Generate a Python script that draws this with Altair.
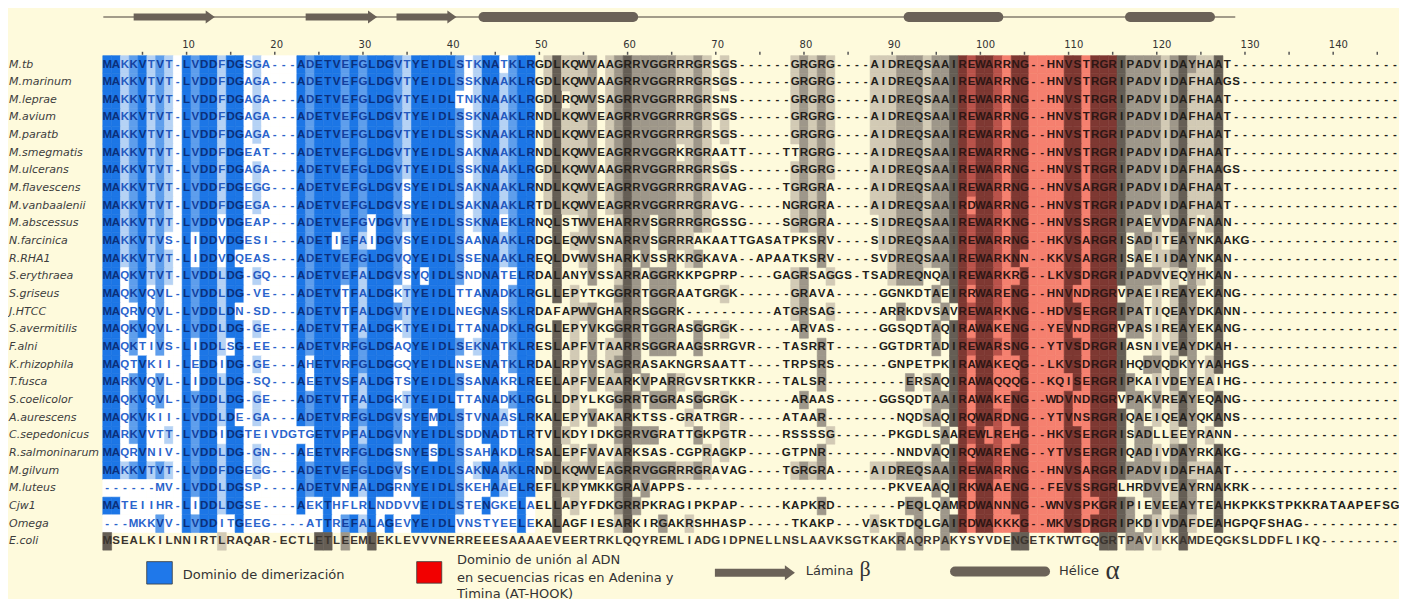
import altair as alt
import pandas as pd
from collections import Counter

names = ["M.tb", "M.marinum", "M.leprae", "M.avium", "M.paratb", "M.smegmatis",
         "M.ulcerans", "M.flavescens", "M.vanbaalenii", "M.abscessus", "N.farcinica",
         "R.RHA1", "S.erythraea", "S.griseus", "J.HTCC", "S.avermitilis", "F.alni",
         "K.rhizophila", "T.fusca", "S.coelicolor", "A.aurescens", "C.sepedonicus",
         "R.salmoninarum", "M.gilvum", "M.luteus", "Cjw1", "Omega", "E.coli"]

sequences = [
    ("MAKKVTVT-LVDDFDGSGA---ADETVEFGLDGVTYEIDLSTKNATKLR" "GDLKQWVAAGRRVGGRRRGRSGS" "------GRGRG----" "AIDREQSAAIREWARRNG" "--" "HNVSTRGRIPADVIDAYHAAT"),
    ("MAKKVTVT-LVDDFDGAGA---ADETVEFGLDGVTYEIDLSSKNAAKLR" "GDLKQWVAAGRRVGGRRRGRSGS" "------GRGRG----" "AIDREQSAAIREWARRNG" "--" "HNVSTRGRIPADVIDAFHAAGS"),
    ("MAKKVTVT-LVDDFDGAGA---ADETVEFGLDGVTYEIDLTNKNAAKLR" "GDLRQWVSAGRRVGGRRRGRSNS" "------GRGRG----" "AIDREQSAAIREWARRNG" "--" "HNVSTRGRIPADVIDAFHAAT"),
    ("MAKKVTVT-LVDDFDGAGA---ADETVEFGLDGVTYEIDLSSKNAAKLR" "NDLKQWVEAGRRVGGRRRGRSGS" "------GRGRG----" "AIDREQSAAIREWARRNG" "--" "HNVSTRGRIPADVIDAFHAAT"),
    ("MAKKVTVT-LVDDFDGAGA---ADETVEFGLDGVTYEIDLSSKNAAKLR" "NDLKQWVEAGRRVGGRRRGRSGS" "------GRGRG----" "AIDREQSAAIREWARRNG" "--" "HNVSTRGRIPADVIDAFHAAT"),
    ("MAKKVTVT-LVDDFDGEAT---ADETVEFGLDGVTYEIDLSAKNAAKLR" "NDLKQWVEAGRRVGGRKRGRAAT" "T----TTRGRG----" "AIDREQSAAIREWARRNG" "--" "HNVSTRGRIPADVIDAFHAAT"),
    ("MAKKVTVT-LVDDFDGAGA---ADETVEFGLDGVTYEIDLSSKNAAKLR" "GDLKQWVAAGRRVGGRRRGRSGS" "------GRGRG----" "AIDREQSAAIREWARRNG" "--" "HNVSTRGRIPADVIDAFHAAGS"),
    ("MAKKVTVT-LVDDFDGEGG---ADETVEFGLDGVSYEIDLSAKNAAKLR" "NDLKQWVEAGRRVGGRRRGRAVA" "G----TGRGRA----" "AIDREQSAAIREWARRNG" "--" "HNVSARGRIPADVIDAFHAAT"),
    ("MAKKVTVT-LVDDFDGEGA---ADETVEFGLDGVSYEIDLSAKNAAKLR" "TDLKQWVEAGRRVGGRRRGRAVG" "-----NGRGRA----" "AIDREQSAAIRDWARRNG" "--" "HNVSTRGRIPADVIDAFHAAT"),
    ("MAKKVTVT-LVDDVDGEAP---ADETVEFGVDGVTYEIDLSSKNAEKLR" "NQLSTWVEHARRVSGRRRGRGSS" "G----SGRGRA----" "SIDREQSAAIREWARKNG" "--" "HNVSSRGRIPAEVVDAFNAAN"),
    ("MAKKVTVS-LIDDVDGESI---ADETIEFAIDGVSYEIDLSAANAAKLR" "DGLEQWVSNARRVSGRRRAKAAT" "TGASATPKSRV----" "SIDREQSAAIREWARRNG" "--" "HKVSARGRISADITEAYNKAAKG"),
    ("MAKKVTVT-LIDDVDQEAS---ADETVEFGLDGVQYEIDLSSENAAKLR" "EQLDVWVSHARKVSSRKRGKAVA" "--APAATKSRV----" "SVDREQSAAIREWARKNN" "--" "KKVSARGRISAEIIDAYNKAN"),
    ("MAQKVTVT-LVDDLDG-GQ---ADETVEFALDGVSYQIDLSNDNATELR" "DALANYVSSARRAGGRKKPGPRP" "----GAGRSAGGS-T" "SADREQNQAIREWARKRG" "--" "LKVSDRGRIPADVVEQYHKAN"),
    ("MAQKVQVL-LVDDLDG-VE---ADETVTFALDGKTYEIDLTTANADKLR" "GLLEPYTKGGRRTGGRAATGRGK" "------GRAVA----" "-GGNKDTAEIRRWARENG" "--" "HNVNDRGRVPAEIREAYEKANG"),
    ("MAQRVQVL-LVDDLDN-SD---ADETVTFALDGVTYEIDLNEGNASKLR" "DAFAPWVGHARRSGGRK------" "----ATGRSAG----" "-ARRKDVSAVREWARKNG" "--" "HDVSERGRIPATIQEAYDKANN"),
    ("MAQKVQVL-LVDDLDG-GE---ADETVTFALDGKTYEIDLTTANADKLR" "GLLEPYVKGGRRTGGRASGGRGK" "------ARVAS----" "-GGSQDTAQIRAWAKENG" "--" "YEVNDRGRVPASIREAYEKANG"),
    ("MAQKTIVS-LIDDLSG-EE---ADETVRFGLDGAQYEIDLSEKNATKLR" "ESLAPFVTAARRSGGRAAGSRRG" "VR---TASRRT----" "-GGTDRTADIREWARSNG" "--" "YTVSDRGRIASNIVEAYDKAH"),
    ("MAQTVKII-LEDDIDG-GE---AHETVRFGLDGGQYEIDLNSENATKLR" "DALRPYVSAGRRASAKNGRSAAT" "T----TRPSRS----" "--GNPETPKIRAWAKEQG" "--" "LKVSDRGRIHQDVQDKYYAAHGS"),
    ("MARKVQVL-LIDDLDG-SQ---AEETVSFALDGTSYEIDLSSANAKRLR" "EELAPFVEAARKVPARRGVSRTK" "KR---TALSR-----" "----ERSAQIRAWAQQQG" "--" "KQISERGRIPKAIVDEYEAIHG"),
    ("MAQKVQVL-LVDDLDG-GE---ADETVTFALDGKTYEIDLTTANADKLR" "GLLDPYLKGGRRTGGRASGGRGK" "------ARAAS----" "-GGSQDTAAIRAWAKENG" "--" "WDVNDRGRVPAKVREAYEQANG"),
    ("MAQKVKII-LVDDLDE-GA---ADETVRFGLDGVSYEMDLSTVNAASLR" "KALEPYVAKARKTSS-GRATRGR" "-----ATAAR-----" "---NQDSAQIRQWARDNG" "--" "YTVNSRGRIQAEIQEAYQKANS"),
    ("MARKVVTT-LVDDIDGTEIVDGTGETVPFALDGVNYEIDLSDDNADTLR" "TVLKDYIDKGRRVGRATTGKPGT" "R----RSSSSG----" "--PKGDLSAAREWLREHG" "--" "HKVSERGRISADLLEEYRANN"),
    ("MAQRVNIV-LVDDLDG-GN---AEETVRFGLDGSNYESDLSSAHAKDLR" "SALEPFVAVARKSAS-CGPRAGK" "P----GTPNR-----" "---NNDVAQIRQWARENG" "--" "YTVSERGRIQADIVDAYRKAKG"),
    ("MAKKVTVT-LVDDFDGEGG---ADETVEFGLDGVSYEIDLSAKNAAKLR" "NDLKQWVEAGRRVGGRRRGRAVA" "G----TGRGRA----" "AIDREQSAAIREWARRNG" "--" "HNVSARGRIPADVIDAFHAAT"),
    ("------MV-LVDDLDGSP----ADETVNFALDGRNYEIDLSKEHAAELR" "EFLKPYMKKGRAVAPPS------" "---------------" "--PKVEAAQIRKWAAENG" "--" "FEVSSRGRLHRDVVEAYRNAKRK"),
    ("MATEIIHR-LIDDLDGSE----AEKTHFLRLNDDVVEIDLSTENGKELA" "ELLAPYFDKGRRPKRAGIPKPAP" "-----KAPKRD----" "---PEQLQAMRDWANNNG" "--" "WNVSPKGRIPIEVEEAYTEAHKPKKSTPKKRATAAPEFSG"),
    ("---MKKVV-LVDDITGEEG----ATTREFALAGEVYEIDLVNSTYEELE" "KALAGFIESARKIRGAKRSHHAS" "P-----TKAKP---V" "ASKTDQLGAIRDWAKKKG" "--" "MKVSDRGRIPKDIVDAFDEAHGPQFSHAG"),
    ("MSEALKILNNIRTLRAQAR-ECTLETLEEMLEKLEVVVNERREEESAAAA" "EVEERTRKLQQYREMLIADGIDPNELLNSLAAVKSGTKAKRAQRPAKYSY" "VDENGETKTWTGQGRTPAVIKKAMDEQGKSLDDFLIKQ"),
]

# secondary structure elements, in alignment columns (read from the top track)
strand_start = [4.0, 23.5, 33.8]
strand_tip = [13.2, 31.6, 40.6]
helix_start = [43.1, 91.3, 116.4]
helix_end = [61.2, 102.6, 126.6]
track_span = [0.56, 128.9]

tick_labels = list(range(10, 150, 10))
minor_ticks = list(range(5, 150, 5))

dimer_cols = (1, 49)
athook_cols = (98, 115)

# ---------------- layout -----------------
ALN = 147
PX = 8.82          # pixels per alignment column
RH = 17.66         # pixels per row
W, H = 1391, 591
X0 = 1 - 99.2 / PX
Y0 = -56.5 / RH
XS = alt.Scale(domain=[X0, X0 + W / PX], nice=False, zero=False)
YS = alt.Scale(domain=[Y0, Y0 + H / RH], nice=False, zero=False, reverse=True)

BLUE = {0: "#ffffff", 1: "#b5d2f5", 2: "#5e9eec", 3: "#1c76e6"}
BLUE_T = {0: "#2a64cc", 1: "#2459bf", 2: "#123f9e", 3: "#0b2f7a"}
GRAY = {0: None, 1: "#d2cab5", 2: "#9e978a", 3: "#655e55"}
RED = {0: "#f5806f", 1: "#f5806f", 2: "#b9524a", 3: "#7e3832"}
SS_COL = "#6b6258"

seqs = [s.ljust(ALN, "-")[:ALN] for s in sequences]
n = len(seqs)
cons = [Counter(s[c] for s in seqs) for c in range(ALN)]


def level(ch, c):
    if ch == "-":
        return 0
    f = cons[c][ch] / n
    return 3 if f >= 0.8 else 2 if f >= 0.55 else 1 if f >= 0.35 else 0


recs = []
for r, s in enumerate(seqs):
    last = r == n - 1
    for c, ch in enumerate(s):
        col = c + 1
        lv = level(ch, c)
        if not last and dimer_cols[0] <= col <= dimer_cols[1]:
            fill, tc = BLUE[lv], BLUE_T[lv]
        elif not last and athook_cols[0] <= col <= athook_cols[1]:
            fill, tc = RED[lv], "#2e1614"
        else:
            fill, tc = GRAY[lv], ("#3a342e" if last else "#221e1a")
        recs.append(dict(row=r, col=col, x0=col - 0.5, x1=col + 0.5,
                         r0=r - 0.5, r1=r + 0.5, ch=ch, fill=fill, tc=tc))
cells = pd.DataFrame(recs)

X = lambda f: alt.X(f, scale=XS, axis=None)
Y = lambda f: alt.Y(f, scale=YS, axis=None)

rects = alt.Chart(cells[cells["fill"].notna()]).mark_rect(strokeWidth=0.6).encode(
    x=X("x0:Q"), x2="x1:Q", y=Y("r0:Q"), y2="r1:Q",
    fill=alt.Fill("fill:N", scale=None), stroke=alt.Stroke("fill:N", scale=None))

letters = alt.Chart(cells).mark_text(font="Liberation Sans", fontSize=11.5, fontWeight="bold",
                                     baseline="middle", align="center").encode(
    x=X("col:Q"), y=Y("row:Q"), text="ch:N", color=alt.Color("tc:N", scale=None))

name_df = pd.DataFrame({"row": range(n), "name": names})
labels = alt.Chart(name_df).mark_text(font="DejaVu Sans", fontSize=11, fontStyle="italic",
                                      align="left", baseline="middle", color="#3d3d3d").encode(
    x=alt.value(1), y=Y("row:Q"), text="name:N")

# numbering
tl_df = pd.DataFrame({"t": tick_labels})
tl_df["xl"] = tl_df["t"] - 0.5
tlabels = alt.Chart(tl_df).mark_text(font="DejaVu Sans", fontSize=10, align="left",
                                     baseline="middle", color="#333333").encode(
    x=X("xl:Q"), y=alt.Y(datum=-1.1, scale=YS, axis=None), text="t:Q")
mt_df = pd.DataFrame({"t": minor_ticks})
mticks = alt.Chart(mt_df).mark_rule(color="#555555", strokeWidth=1.5).encode(
    x=X("t:Q"), y=alt.Y(datum=-0.72, scale=YS, axis=None), y2=alt.datum(-0.55))

# secondary structure track
TRACK_Y = -2.69
track = alt.Chart(pd.DataFrame({"a": [track_span[0]], "b": [track_span[1]]})).mark_rule(
    color="#857c6f", strokeWidth=1.5).encode(
    x=X("a:Q"), x2="b:Q", y=alt.Y(datum=TRACK_Y, scale=YS, axis=None))
st = pd.DataFrame({"s": strand_start, "t": strand_tip})
st["body_end"] = st["t"] - 0.9
st["head"] = st["t"] - 4.55 / PX
strand_body = alt.Chart(st).mark_rule(color=SS_COL, strokeWidth=7, strokeCap="butt").encode(
    x=X("s:Q"), x2="body_end:Q", y=alt.Y(datum=TRACK_Y, scale=YS, axis=None))
HEAD = "M -0.7 -1 L 0.7 0 L -0.7 1 Z"
strand_head = alt.Chart(st).mark_point(shape=HEAD, filled=True, size=169, opacity=1,
                                       color=SS_COL, strokeWidth=0).encode(
    x=X("head:Q"), y=alt.Y(datum=TRACK_Y, scale=YS, axis=None))
hx = pd.DataFrame({"s": helix_start, "e": helix_end})
hx["a"] = hx["s"] + 5 / PX
hx["b"] = hx["e"] - 5 / PX
helices = alt.Chart(hx).mark_rule(color=SS_COL, strokeWidth=10, strokeCap="round").encode(
    x=X("a:Q"), x2="b:Q", y=alt.Y(datum=TRACK_Y, scale=YS, axis=None))

# legend
sq = pd.DataFrame({"a": [5.48, 36.09], "b": [8.38, 38.93], "c": [28.15, 28.15],
                   "d": [29.42, 29.37], "f": ["#1f78ea", "#f20000"]})
squares = alt.Chart(sq).mark_rect(stroke="#3a3a3a", strokeWidth=0.8).encode(
    x=X("a:Q"), x2="b:Q", y=Y("c:Q"), y2="d:Q", fill=alt.Fill("f:N", scale=None))

leg_txt = pd.DataFrame({
    "x": [9.56, 40.66, 40.66, 40.66, 80.2, 108.9],
    "y": [28.91, 28.08, 29.08, 30.0, 28.68, 28.68],
    "t": ["Dominio de dimerización", "Dominio de unión al ADN",
          "en secuencias ricas en Adenina y", "Timina (AT-HOOK)", "Lámina", "Hélice"]})
legend_text = alt.Chart(leg_txt).mark_text(font="DejaVu Sans", fontSize=13, align="left",
                                           baseline="middle", color="#333333").encode(
    x=X("x:Q"), y=Y("y:Q"), text="t:N")
greek = pd.DataFrame({"x": [86.3, 114.2], "y": [28.55, 28.66], "t": ["β", "α"],
                      "s": [22, 27]})
greek_text = alt.Chart(greek).mark_text(font="Liberation Serif", align="left",
                                        baseline="middle", color="#333333").encode(
    x=X("x:Q"), y=Y("y:Q"), text="t:N", size=alt.Size("s:Q", scale=None))

LEG_Y = 28.78
la = pd.DataFrame({"s": [69.9], "t": [78.97]})
la["be"] = la["t"] - 1.0
la["h"] = la["t"] - 5 / PX
leg_arrow_body = alt.Chart(la).mark_rule(color=SS_COL, strokeWidth=8, strokeCap="butt").encode(
    x=X("s:Q"), x2="be:Q", y=alt.Y(datum=LEG_Y, scale=YS, axis=None))
leg_arrow_head = alt.Chart(la).mark_point(shape="M -0.67 -1 L 0.67 0 L -0.67 1 Z", filled=True,
                                          size=225, opacity=1, color=SS_COL, strokeWidth=0).encode(
    x=X("h:Q"), y=alt.Y(datum=LEG_Y, scale=YS, axis=None))
lh = pd.DataFrame({"a": [96.56 + 5 / PX], "b": [107.9 - 5 / PX]})
leg_helix = alt.Chart(lh).mark_rule(color=SS_COL, strokeWidth=10, strokeCap="round").encode(
    x=X("a:Q"), x2="b:Q", y=alt.Y(datum=28.71, scale=YS, axis=None))

chart = alt.layer(
    rects, letters, labels, tlabels, mticks, track, strand_body, strand_head, helices,
    squares, legend_text, greek_text, leg_arrow_body, leg_arrow_head, leg_helix
).properties(
    width=W, height=H, background="#FEFADC", padding=0,
    autosize=alt.AutoSizeParams(type="none")
).configure_view(stroke=None)

chart.save("out.html", embed_options={"renderer": "svg", "actions": False})
